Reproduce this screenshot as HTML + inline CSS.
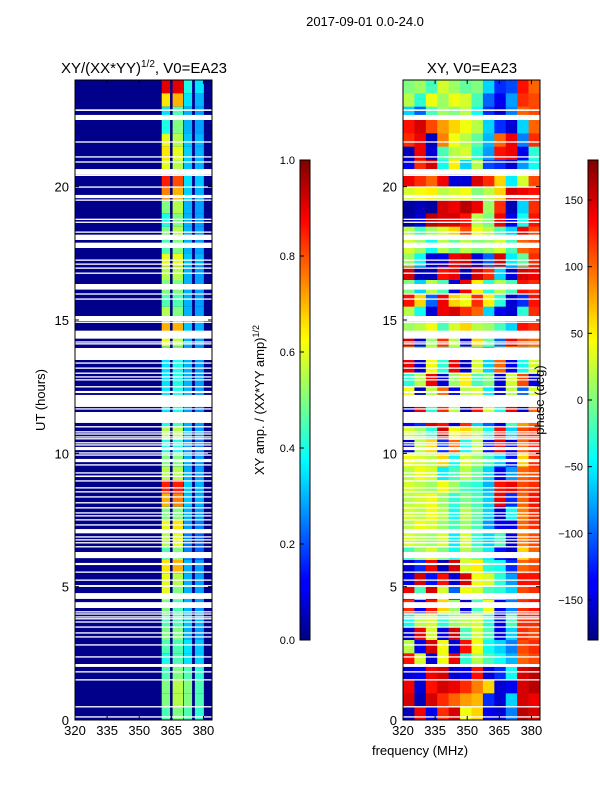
<!DOCTYPE html>
<html><head><meta charset="utf-8"><style>
body{margin:0;background:#fff;}
svg{display:block;font-family:"Liberation Sans",sans-serif;}
</style></head><body>
<svg id="fig" width="600" height="800" xmlns="http://www.w3.org/2000/svg">
<defs>
<linearGradient id="jet" x1="0" y1="1" x2="0" y2="0">
<stop offset="0" stop-color="#00007f"/><stop offset="0.11" stop-color="#0000ff"/>
<stop offset="0.125" stop-color="#0000ff"/><stop offset="0.34" stop-color="#00dfff"/>
<stop offset="0.375" stop-color="#00ffff"/><stop offset="0.5" stop-color="#7fff7f"/>
<stop offset="0.625" stop-color="#ffff00"/><stop offset="0.66" stop-color="#ffe000"/>
<stop offset="0.875" stop-color="#ff0000"/><stop offset="1" stop-color="#7f0000"/>
</linearGradient>
</defs>
<text x="365" y="26" font-size="13" text-anchor="middle">2017-09-01 0.0-24.0</text>
<text x="144" y="73" font-size="15" text-anchor="middle">XY/(XX*YY)<tspan font-size="10" dy="-6">1/2</tspan><tspan dy="6">, V0=EA23</tspan></text>
<text x="472" y="73" font-size="15" text-anchor="middle">XY, V0=EA23</text>
<g id="ampHeat"></g>
<g id="phaseHeat"></g>
<g id="flags"></g>
<g id="axes"></g>
<text transform="translate(45,400) rotate(-90)" font-size="13" text-anchor="middle">UT (hours)</text>
<text x="420" y="755" font-size="13" text-anchor="middle">frequency (MHz)</text>
<rect x="300" y="160" width="10" height="480" fill="url(#jet)" stroke="#000" stroke-width="1"/>
<rect x="588" y="160" width="10" height="480" fill="url(#jet)" stroke="#000" stroke-width="1"/>
<text transform="translate(264,400) rotate(-90)" font-size="13" text-anchor="middle">XY amp. / (XX*YY amp)<tspan font-size="9" dy="-5">1/2</tspan></text>
<g id="cbar"></g>
<text transform="translate(544,400) rotate(-90)" font-size="13" text-anchor="middle">phase (deg)</text>
</svg>
<script>
// ---- data ----
const ampHalfHourA = [0.9,0.65,0.35,0.4,0.6,0.65,0.6,0.85,0.75,0.5,0.4,0.5,0.45,0.6,0.55,0.5,0.45,0.55,0.7,0.6,0.4,0.35,0.35,0.35,0.35,0.4,0.55,0.4,0.5,0.55,0.85,0.7,0.5,0.6,0.55,0.45,0.65,0.6,0.6,0.5,0.45,0.5,0.45,0.4,0.45,0.5,0.5,0.45];
const ampHalfHourB = [0.9,0.7,0.45,0.5,0.55,0.6,0.55,0.8,0.7,0.55,0.5,0.55,0.5,0.6,0.55,0.5,0.45,0.5,0.7,0.55,0.45,0.4,0.4,0.4,0.4,0.45,0.55,0.4,0.5,0.55,0.85,0.75,0.5,0.65,0.6,0.5,0.7,0.55,0.5,0.45,0.45,0.5,0.45,0.45,0.5,0.55,0.55,0.5];
const ampHalfHourC = [0.4,0.35,0.3,0.3,0.32,0.33,0.32,0.35,0.33,0.3,0.3,0.3,0.3,0.32,0.3,0.3,0.3,0.3,0.32,0.3,0.3,0.3,0.3,0.3,0.28,0.3,0.3,0.28,0.3,0.3,0.33,0.32,0.3,0.28,0.25,0.25,0.3,0.3,0.3,0.3,0.32,0.3,0.35,0.35,0.45,0.5,0.5,0.45];
const ampHalfHourD = [0.35,0.3,0.28,0.28,0.3,0.3,0.3,0.32,0.3,0.28,0.28,0.28,0.28,0.3,0.28,0.28,0.28,0.28,0.3,0.28,0.28,0.28,0.28,0.28,0.26,0.28,0.28,0.25,0.28,0.28,0.3,0.3,0.28,0.25,0.22,0.22,0.28,0.28,0.28,0.28,0.3,0.28,0.32,0.33,0.42,0.45,0.45,0.42];
const ampBands = [[360.5,364.4],[365.6,370.5],[370.8,374.7],[376,380.2]];
const ampBackground = 0.01;
const phaseColStarts = [320,325.33,330.67,336,341.33,346.67,352,357.33,362.67,368,373.33,378.67];
const phaseHalfHour = [
[0,10,-20,30,10,-10,0,-60,-120,-110,130,100],
[20,-30,40,10,40,30,-20,-100,-140,-80,120,110],
[-60,-100,-20,10,0,20,-40,-120,-150,-90,100,110],
[130,150,110,80,60,40,20,-60,-120,-150,-60,100],
[120,140,-160,90,40,20,-10,-70,100,140,-90,120],
[-160,140,-150,-20,20,30,-30,-80,130,140,-140,-30],
[-140,120,150,-40,50,-60,20,-110,-120,-150,-80,-40],
[140,120,100,140,-150,-150,150,120,60,-50,30,110],
[30,40,50,20,30,40,0,20,60,150,140,130],
[-170,-160,-170,150,140,160,140,10,120,-160,-60,120],
[-170,-150,160,150,150,130,20,0,140,-140,-40,130],
[20,-20,10,30,60,110,40,20,-20,-60,140,110],
[30,10,-40,20,-10,20,0,10,30,-20,100,110],
[10,-40,-150,-140,140,150,-150,-100,150,-50,-10,120],
[150,-160,-160,130,140,-160,150,120,-60,-150,150,140],
[0,-60,20,-20,-150,140,50,-30,20,-20,130,120],
[130,60,-100,140,60,40,120,50,-30,-150,-120,130],
[20,-40,-150,140,150,120,100,-60,-140,-150,-30,120],
[10,20,40,-20,30,60,20,10,-20,-60,130,120],
[150,-150,10,120,20,-150,60,-10,-100,140,110,100],
[20,-30,30,-20,10,20,-40,-60,30,40,-20,0],
[140,-150,40,-30,140,-160,30,-60,100,-140,-40,30],
[-30,20,140,-150,10,50,-20,0,-150,30,110,-150],
[40,-160,20,100,-140,20,30,-50,-150,20,-100,30],
[-150,140,-30,120,20,-160,130,30,-40,140,-150,100],
[-140,-120,150,130,-150,120,-60,-100,-140,-20,80,100],
[30,10,-30,150,40,60,20,-40,130,-60,110,120],
[-150,20,60,-120,100,-40,20,-130,140,-150,100,130],
[40,30,20,60,-40,30,10,-20,-60,-130,60,120],
[20,40,30,-50,-20,20,-10,-60,-140,-80,100,110],
[30,20,10,40,10,-20,-30,-70,130,140,110,120],
[20,30,40,10,-30,0,-20,-60,140,-120,100,130],
[30,20,40,20,-40,20,-10,-60,-150,-40,90,120],
[20,40,30,10,-20,10,-20,-80,-140,-140,100,120],
[30,20,10,30,-50,30,-30,-60,-20,-150,90,110],
[-20,10,30,0,-40,20,-10,-50,-130,-150,60,100],
[-150,-120,140,-160,150,30,50,-30,-40,-120,100,110],
[-140,150,-130,130,-150,150,40,30,-30,-80,130,130],
[140,-20,150,30,-100,40,30,-20,-30,-60,110,120],
[120,-140,130,60,10,-150,-20,40,-140,-90,120,130],
[-40,20,30,-30,10,20,30,-30,-140,-20,120,120],
[-150,140,30,-140,150,-20,30,-20,-140,-60,120,110],
[20,-140,150,40,-150,130,40,-40,-60,-90,110,120],
[130,30,-150,40,140,-30,20,-20,-40,-70,100,110],
[-150,-140,140,150,-150,-140,130,-150,-120,-40,150,160],
[140,-150,130,150,140,120,90,60,-150,-140,150,160],
[150,-160,150,120,100,80,70,-120,-150,-60,150,140],
[-160,140,-140,120,150,40,60,-140,-150,-90,160,150]];
const flagStart = [22.84,22.5,21.65,21.09,20.9,20.47,20.4,19.96,19.57,19.47,18.75,18.64,18.27,18.0,17.7,17.22,17.07,16.92,16.73,16.2,16.14,15.95,15.76,14.96,14.89,14.3,14.15,14.08,13.5,13.36,13.17,12.98,12.84,12.73,12.47,12.26,11.74,11.64,11.14,10.97,10.78,10.7,10.59,10.52,10.37,10.29,10.12,9.99,9.91,9.67,9.54,9.24,9.11,8.94,8.68,8.53,8.34,8.12,7.93,7.74,7.63,7.48,7.29,7.0,6.84,6.73,6.62,6.47,6.07,5.81,5.52,5.22,4.99,4.54,4.2,4.03,3.95,3.84,3.77,3.65,3.46,3.24,3.09,2.79,2.34,1.99,1.78,1.48,0.47,0.09];
const flagEnd   = [22.9,22.69,21.7,21.14,20.95,20.66,20.47,20.01,19.69,19.52,18.8,18.69,18.32,18.2,17.9,17.27,17.12,16.97,16.78,16.35,16.2,16.0,15.81,15.15,14.94,14.6,14.2,14.13,13.95,13.41,13.22,13.03,12.89,12.78,12.52,12.34,12.19,11.69,11.55,11.02,10.83,10.75,10.64,10.57,10.42,10.34,10.24,10.04,9.96,9.79,9.59,9.29,9.17,8.99,8.73,8.58,8.39,8.17,7.98,7.79,7.68,7.53,7.34,7.16,6.89,6.78,6.67,6.52,6.3,5.89,5.57,5.27,5.06,4.76,4.42,4.08,4.0,3.89,3.82,3.7,3.51,3.29,3.14,2.84,2.39,2.1,1.83,1.53,0.52,0.14];
const xTicks = [320,335,350,365,380];
const yTicks = [0,5,10,15,20];
const ampCbarTicks = [0.0,0.2,0.4,0.6,0.8,1.0];
const phaseCbarTicks = [-150,-100,-50,0,50,100,150];

// ---- scales ----
const NS='http://www.w3.org/2000/svg';
const panels=[{x0:75},{x0:403}];
const pw=137, yTop=80, yBot=720;
function xs(p,f){return panels[p].x0+(f-320)/64*pw;}
function ys(h){return yBot-(h/24)*(yBot-yTop);}
function jet(v){v=Math.max(0,Math.min(1,v));const c=t=>Math.round(255*Math.max(0,Math.min(1,1.5-Math.abs(4*v-t))));return `rgb(${c(3)},${c(2)},${c(1)})`;}
function mk(tag,attrs,parent){const e=document.createElementNS(NS,tag);for(const k in attrs)e.setAttribute(k,attrs[k]);parent.appendChild(e);return e;}

const amp=document.getElementById('ampHeat');
const nRows=ampHalfHourA.length, dh=24/nRows;
const bandArrays=[ampHalfHourA,ampHalfHourB,ampHalfHourC,ampHalfHourD];
for(let i=0;i<nRows;i++){
  const hTop=24-i*dh, hBot=hTop-dh;
  const y=ys(hTop), h=ys(hBot)-y;
  const bg=mk('rect',{x:xs(0,320),y:y,width:pw,height:h+0.3,fill:jet(ampBackground)},amp);
  
  
  bandArrays.forEach((arr,b)=>{
    const [f0,f1]=ampBands[b];
    const r=mk('rect',{x:xs(0,f0),y:y,width:xs(0,f1)-xs(0,f0),height:h+0.3,fill:jet(arr[i])},amp);
    
    
  });
}
const ph=document.getElementById('phaseHeat');
for(let i=0;i<phaseHalfHour.length;i++){
  const hTop=24-i*dh, hBot=hTop-dh;
  const y=ys(hTop), h=ys(hBot)-y;
  phaseHalfHour[i].forEach((v,j)=>{
    const f0=phaseColStarts[j], f1=j+1<phaseColStarts.length?phaseColStarts[j+1]:384;
    const r=mk('rect',{x:xs(1,f0),y:y,width:xs(1,f1)-xs(1,f0)+0.3,height:h+0.3,fill:jet((v+180)/360)},ph);
    
    
  });
}
const fl=document.getElementById('flags');
for(let k=0;k<flagStart.length;k++){
  for(let p=0;p<2;p++){
    const y=ys(flagEnd[k]);
    const r=mk('rect',{x:panels[p].x0,y:y,width:pw,height:Math.max(1.2,ys(flagStart[k])-y),fill:'#fff'},fl);
    
    
  }
}
const ax=document.getElementById('axes');
for(let p=0;p<2;p++){
  const x0=panels[p].x0;
  const fr=mk('rect',{x:x0,y:yTop,width:pw,height:yBot-yTop,fill:'none',stroke:'#000','stroke-width':1},ax);
  
  
  xTicks.forEach(t=>{
    const x=xs(p,t);
    mk('line',{x1:x,x2:x,y1:yBot,y2:yBot-4,stroke:'#000'},ax);
    mk('line',{x1:x,x2:x,y1:yTop,y2:yTop+4,stroke:'#000'},ax);
    const tx=mk('text',{x:x,y:yBot+15,'font-size':13,'text-anchor':'middle'},ax);
    tx.textContent=t;
    
    
  });
  yTicks.forEach(t=>{
    const y=ys(t);
    mk('line',{x1:x0,x2:x0+4,y1:y,y2:y,stroke:'#000'},ax);
    mk('line',{x1:x0+pw,x2:x0+pw-4,y1:y,y2:y,stroke:'#000'},ax);
    const tx=mk('text',{x:x0-6,y:y+5,'font-size':13,'text-anchor':'end'},ax);
    tx.textContent=t;
    
    
  });
}
const cb=document.getElementById('cbar');
ampCbarTicks.forEach(t=>{
  const y=640-t*480;
  mk('line',{x1:300,x2:304,y1:y,y2:y,stroke:'#000'},cb);
  const tx=mk('text',{x:295,y:y+4,'font-size':11,'text-anchor':'end'},cb);
  tx.textContent=t.toFixed(1);
  
  
});
phaseCbarTicks.forEach(t=>{
  const y=640-(t+180)/360*480;
  mk('line',{x1:588,x2:592,y1:y,y2:y,stroke:'#000'},cb);
  const tx=mk('text',{x:583,y:y+4,'font-size':11,'text-anchor':'end'},cb);
  tx.textContent=t<0?'\u2212'+(-t):t;
  
  
});
</script>
</body></html>
